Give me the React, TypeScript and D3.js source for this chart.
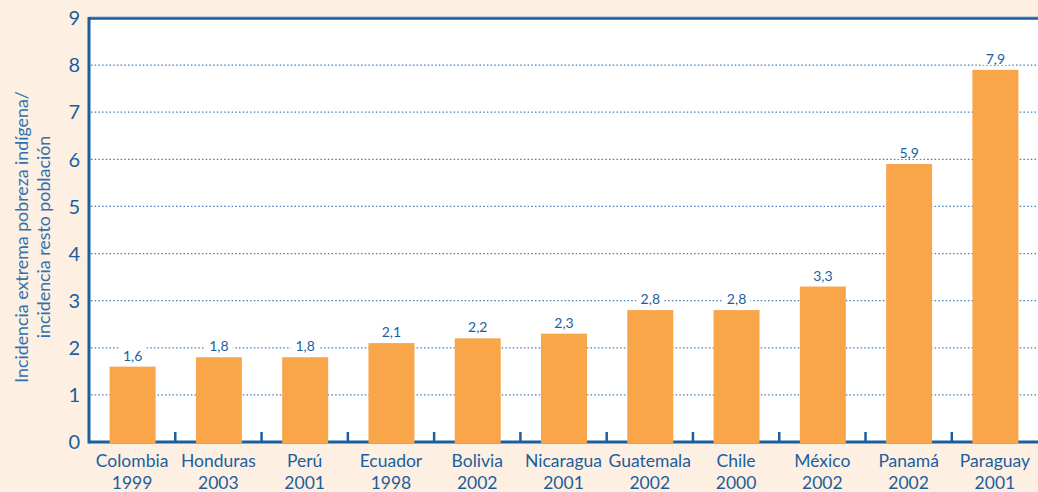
import { useEffect, useRef } from "react"
import * as d3 from "d3"

const countries = ["Colombia", "Honduras", "Perú", "Ecuador", "Bolivia", "Nicaragua", "Guatemala", "Chile", "México", "Panamá", "Paraguay"]
const years = ["1999", "2003", "2001", "1998", "2002", "2001", "2002", "2000", "2002", "2002", "2001"]
const ratios = [1.6, 1.8, 1.8, 2.1, 2.2, 2.3, 2.8, 2.8, 3.3, 5.9, 7.9]
const yTicks = [0, 1, 2, 3, 4, 5, 6, 7, 8, 9]

const W = 1038
const H = 492
const FONT = "Lato, 'Open Sans', sans-serif"
const BLUE = "#1b5e9f"

export default function App() {
  const svgRef = useRef<SVGSVGElement>(null)

  useEffect(() => {
    if (!svgRef.current) return
    const svg = d3.select(svgRef.current)
    svg.selectAll("*").remove()

    const left = 89
    const right = W
    const top = 18
    const bottom = 442

    svg.append("rect").attr("width", W).attr("height", H).attr("fill", "#fdf0e2")
    svg.append("rect")
      .attr("x", left).attr("y", top)
      .attr("width", right - left).attr("height", bottom - top)
      .attr("fill", "#fff")

    const x = d3.scaleBand<number>()
      .domain(d3.range(countries.length))
      .range([left, right])
      .paddingInner(0.467)
      .paddingOuter(0.233)

    const y = d3.scaleLinear().domain([0, 9]).range([bottom, top])

    // gridlines
    svg.append("g")
      .selectAll("line")
      .data(yTicks.filter((t) => t > 0 && t < 9))
      .join("line")
      .attr("x1", left + 2).attr("x2", right)
      .attr("y1", (d) => y(d)).attr("y2", (d) => y(d))
      .attr("stroke", "#3f7fb8")
      .attr("stroke-width", 1.3)
      .attr("stroke-dasharray", "1.5,2.2")

    // top border
    svg.append("line")
      .attr("x1", left).attr("x2", right)
      .attr("y1", top - 1).attr("y2", top - 1)
      .attr("stroke", "#8fb3d6").attr("stroke-width", 1)
    svg.append("line")
      .attr("x1", left).attr("x2", right)
      .attr("y1", top + 0.5).attr("y2", top + 0.5)
      .attr("stroke", BLUE).attr("stroke-width", 2.5)

    // baseline and category separators
    svg.append("line")
      .attr("x1", left).attr("x2", right)
      .attr("y1", bottom).attr("y2", bottom)
      .attr("stroke", BLUE).attr("stroke-width", 3)
    svg.append("g")
      .selectAll("line")
      .data(d3.range(1, countries.length))
      .join("line")
      .attr("x1", (i) => left + i * x.step())
      .attr("x2", (i) => left + i * x.step())
      .attr("y1", bottom - 10).attr("y2", bottom)
      .attr("stroke", BLUE).attr("stroke-width", 2.5)

    // bars
    svg.append("g")
      .selectAll("rect")
      .data(ratios)
      .join("rect")
      .attr("x", (_, i) => x(i)! + 0.5)
      .attr("width", x.bandwidth())
      .attr("y", (d) => y(d))
      .attr("height", (d) => bottom + 1.5 - y(d))
      .attr("fill", "#f9a64b")

    // value labels with knockout
    const lbl = svg.append("g")
      .selectAll("g")
      .data(ratios)
      .join("g")
      .attr("transform", (d, i) => `translate(${x(i)! + x.bandwidth() / 2 + 0.5},${y(d) - 6})`)
    lbl.append("rect")
      .attr("x", -14).attr("y", -14).attr("width", 28).attr("height", 15)
      .attr("fill", "#fff")
    lbl.append("text")
      .attr("text-anchor", "middle")
      .attr("font-family", FONT)
      .attr("font-size", 14)
      .attr("fill", BLUE)
      .text((d) => d.toFixed(1).replace(".", ","))

    // left axis
    svg.append("line")
      .attr("x1", left).attr("x2", left)
      .attr("y1", top - 1).attr("y2", bottom + 1.5)
      .attr("stroke", BLUE).attr("stroke-width", 3)
    svg.append("g")
      .selectAll("text")
      .data(yTicks)
      .join("text")
      .attr("x", 80)
      .attr("y", (d) => y(d))
      .attr("dy", "0.36em")
      .attr("text-anchor", "end")
      .attr("font-family", FONT)
      .attr("font-size", 20)
      .attr("fill", BLUE)
      .text((d) => d)

    // category labels
    const cat = svg.append("g")
      .selectAll("text")
      .data(countries)
      .join("text")
      .attr("text-anchor", "middle")
      .attr("font-family", FONT)
      .attr("font-size", 17.5)
      .attr("fill", BLUE)
    cat.append("tspan")
      .attr("x", (_, i) => x(i)! + x.bandwidth() / 2)
      .attr("y", 467)
      .text((d) => d)
    cat.append("tspan")
      .attr("x", (_, i) => x(i)! + x.bandwidth() / 2)
      .attr("y", 489)
      .text((_, i) => years[i])

    // y title
    const t = svg.append("text")
      .attr("transform", "translate(0,237) rotate(-90)")
      .attr("text-anchor", "middle")
      .attr("font-family", FONT)
      .attr("font-size", 17.8)
      .attr("fill", "#2f72b0")
    t.append("tspan").attr("x", 0).attr("y", 28).text("Incidencia extrema pobreza indígena/")
    t.append("tspan").attr("x", 0).attr("y", 50).text("incidencia resto población")
  }, [])

  return <svg ref={svgRef} width={W} height={H} style={{ position: "absolute", left: 0, top: 0, display: "block" }} />
}
